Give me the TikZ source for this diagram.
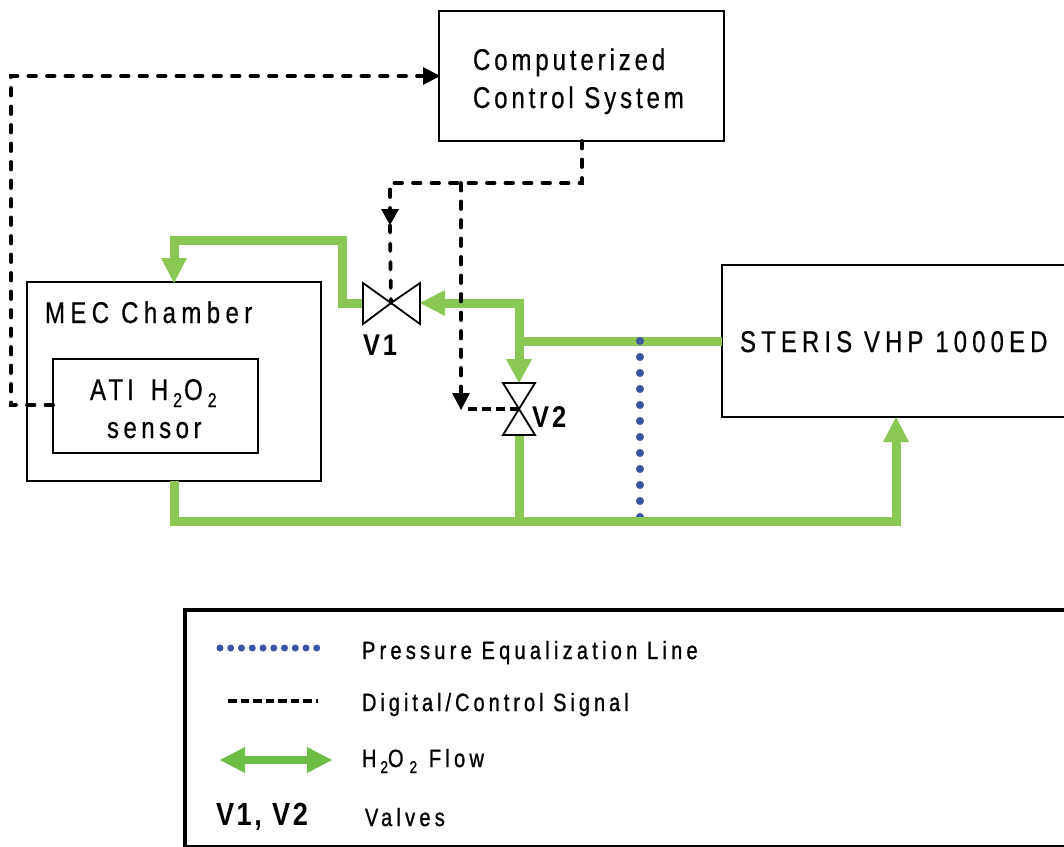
\documentclass[tikz,border=0pt]{standalone}
\usepackage{fontspec}
\setmainfont{Liberation Sans}[FakeStretch=0.8,LetterSpace=14,FakeBold=0.5]
\newfontfamily\legf{Liberation Sans}[FakeStretch=0.8,LetterSpace=17,FakeBold=1]
\newfontfamily\boldf{Liberation Sans Bold}[FakeStretch=0.85,LetterSpace=10]
\usetikzlibrary{arrows.meta}
\definecolor{flowgreen}{HTML}{8BC753}
\definecolor{legendgreen}{HTML}{6CBE45}
\definecolor{pressblue}{HTML}{3B54A4}
\tikzset{
 x=1pt,y=-1pt,
 box/.style={draw=black,line width=2pt,fill=none},
 flow/.style={draw=flowgreen,line width=9pt,line join=miter},
 signal/.style={draw=black,line width=3.8pt,line cap=round,dash pattern=on 7.5pt off 11pt},
 signalthin/.style={draw=black,line width=3.2pt,dash pattern=on 9pt off 5pt},
 press/.style={draw=pressblue,line width=8pt,line cap=round,dash pattern=on 0pt off 16pt},
 valve/.style={draw=black,line width=1.8pt,fill=white,line join=miter},
 lab/.style={anchor=base west,inner sep=0pt,outer sep=0pt,font=\fontsize{30}{30}\selectfont},
 leg/.style={anchor=base west,inner sep=0pt,outer sep=0pt,font=\legf\fontsize{25}{25}\selectfont},
 vlab/.style={anchor=base west,inner sep=0pt,outer sep=0pt,font=\boldf\fontsize{30}{30}\selectfont},
}
\newcommand{\spc}[1]{\addfontfeature{LetterSpace=#1}}
\begin{document}
\begin{tikzpicture}
\useasboundingbox (0,0) rectangle (1064,846);
% named points
\coordinate (v1) at (391,303);
\coordinate (v2) at (519,409);
\coordinate (v1r) at (420,303);
\coordinate (v1l) at (363,303);
\coordinate (v2t) at (519,383);
\coordinate (v2b) at (519,435);
\coordinate (ctlout) at (582,141);
\coordinate (ctlc) at (582,183);
\coordinate (jn) at (461,183);
\coordinate (v1c) at (390,183);
\coordinate (v2c) at (461,410);
\coordinate (sens) at (53,405);
\coordinate (sl) at (11,405);
\coordinate (tl) at (11,76);
\coordinate (ctlin) at (440,76);
\coordinate (st) at (722,341);
\coordinate (stb) at (896,417);
\coordinate (mt) at (174,283);
\coordinate (mb) at (174,481);

% boxes
\draw[box] (439,11) rectangle (724,141);
\draw[box] (27,282) rectangle (321,481);
\draw[box] (53,359) rectangle (258,453);
\draw[box] (1070,265) -- (722,265) -- (722,417) -- (1070,417);

% green flow
\draw[flow] (v1l) -- (342,303) -- (342,240) -- (174,240) -- (174,262);
\fill[flowgreen] (161,258) -- (187,258) -- (mt) -- cycle;
\draw[flow] (st) -- (519,341);
\draw[flow] (445,303) -- (519,303) -- (519,362);
\fill[flowgreen] (506,359) -- (532,359) -- (v2t) -- cycle;
\fill[flowgreen] (445,290) -- (445,316) -- (v1r) -- cycle;

% pressure line
\draw[press] (640,341) -- (640,518);

% lower green flow
\draw[flow] (mb) -- (174,521) -- (896,521) -- (896,440);
\fill[flowgreen] (883,442) -- (909,442) -- (stb) -- cycle;
\draw[flow] (519,521) -- (v2b);

% signals
\draw[signal] (ctlout) -- (ctlc) -- (v1c) -- (390,218);
\draw[signal] (390,225) -- (v1);
\fill (381,209) -- (399,209) -- (390,225) -- cycle;
\draw[signal] (jn) -- (461,396);
\fill (452,393) -- (470,393) -- (v2c) -- cycle;
\draw[signalthin] (v2) -- (466,409);
\draw[signal] (sens) -- (sl) -- (tl) -- (424,76);
\fill (423,67) -- (423,85) -- (ctlin) -- cycle;

% valves
\draw[valve] (v1) -- (363,283) -- (363,324) -- cycle;
\draw[valve] (v1) -- (420,283) -- (420,324) -- cycle;
\draw[valve] (v2) -- (503,383) -- (535,383) -- cycle;
\draw[valve] (v2) -- (503,435) -- (535,435) -- cycle;

% text
\node[lab] (t1) at (473,70) {\spc{13}Computerized};
\node[lab] (t2) at (473,108) {\spc{13}Control System};
\node[lab] (t3) at (45,323) {\spc{18}MEC Chamber};
\node[lab] (t4) at (90,400) {\spc{14}ATI\kern6pt\ H\kern5pt\raisebox{-7pt}{\fontsize{20}{20}\selectfont 2}\kern2pt O\kern5pt\raisebox{-7pt}{\fontsize{20}{20}\selectfont 2}};
\node[lab] (t5) at (107,438) {\spc{15}sensor};
\node[lab] (t6) at (740,352) {\spc{17}STERIS VHP 1000ED};
\node[vlab] (v1t) at (363,355) {V1};
\node[vlab] (v2t2) at (532,427) {V2};

% legend
\draw[draw=black,line width=4pt] (1070,610) -- (185,610) -- (185,847) -- (1070,847);
\coordinate (p1) at (220,648);
\coordinate (p2) at (317.5,648);
\draw[draw=pressblue,line width=7pt,line cap=round,dash pattern=on 0pt off 10.75pt] (p1) -- (p2);
\coordinate (d1) at (228,701);
\coordinate (d2) at (318,701);
\draw[draw=black,line width=3.2pt,dash pattern=on 8.5pt off 4pt] (d1) -- (d2);
\coordinate (a1) at (220,760);
\coordinate (a2) at (332,760);
\draw[draw=legendgreen,line width=8pt] (240,760) -- (312,760);
\fill[legendgreen] (a1) -- (245,747) -- (245,773) -- cycle;
\fill[legendgreen] (a2) -- (307,747) -- (307,773) -- cycle;
\node[leg] (l1) at (362,659) {Pressure Equalization Line};
\node[leg] (l2) at (362,711) {\addfontfeature{LetterSpace=16}Digital/Control Signal};
\node[leg] (l3) at (362,767) {H\kern4pt\raisebox{-6pt}{\fontsize{17}{17}\selectfont 2}\kern0pt O\kern6pt\raisebox{-6pt}{\fontsize{17}{17}\selectfont 2}\kern2pt\ Flow};
\node[vlab,font=\boldf\fontsize{32}{32}\selectfont,] (l4) at (216,825) {\addfontfeature{LetterSpace=8}V1, V2};
\node[leg] (l5) at (365,826) {Valves};
\end{tikzpicture}
\end{document}
